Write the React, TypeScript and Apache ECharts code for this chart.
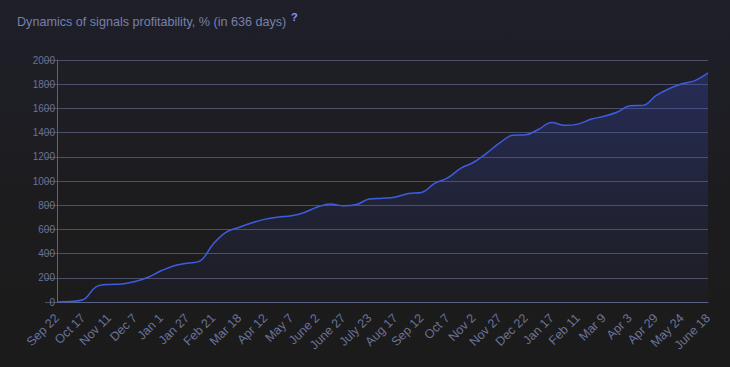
import React, { useEffect, useRef } from "react";
import * as echarts from "echarts";

const TITLE = "Dynamics of signals profitability, % (in 636 days)";

const categories = [
  "Sep 22", "Oct 4", "Oct 17", "Oct 29", "Nov 11", "Nov 23", "Dec 7", "Dec 19", "Jan 1", "Jan 13",
  "Jan 27", "Feb 8", "Feb 21", "Mar 5", "Mar 18", "Mar 30", "Apr 12", "Apr 24", "May 7", "May 19",
  "June 2", "June 14", "June 27", "July 9", "July 23", "Aug 4", "Aug 17", "Aug 29", "Sep 12", "Sep 24",
  "Oct 7", "Oct 19", "Nov 2", "Nov 14", "Nov 27", "Dec 9", "Dec 22", "Jan 3", "Jan 17", "Jan 29",
  "Feb 11", "Feb 23", "Mar 9", "Mar 21", "Apr 3", "Apr 15", "Apr 29", "May 11", "May 24", "June 5",
  "June 18",
];

const profit = [
  0, 5, 18, 125, 145, 148, 170, 205, 258, 300,
  320, 340, 480, 578, 618, 655, 685, 702, 712, 740,
  785, 810, 795, 805, 852, 857, 868, 897, 905, 980,
  1025, 1105, 1155, 1230, 1315, 1378, 1382, 1428, 1483, 1460,
  1470, 1510, 1535, 1568, 1622, 1625, 1705, 1762, 1803, 1830,
  1893,
];

const yMin = 0;
const yMax = 2000;
const yStep = 200;

export default function App() {
  const ref = useRef<HTMLDivElement>(null);

  useEffect(() => {
    if (!ref.current) return;
    const chart = echarts.init(ref.current, null, { renderer: "svg" });
    const labelColor = "#6a7399";
    chart.setOption({
      animation: false,
      backgroundColor: {
        type: "linear",
        x: 0, y: 0, x2: 0, y2: 1,
        colorStops: [
          { offset: 0, color: "#1f1f2a" },
          { offset: 0.6, color: "#1c1c1e" },
          { offset: 1, color: "#1b1b1b" },
        ],
      },
      textStyle: { fontFamily: "Liberation Sans, Arial, sans-serif" },
      graphic: [
        {
          type: "text",
          left: 17,
          top: 15,
          style: {
            text: TITLE,
            fill: "#7780a9",
            font: "12.6px 'Liberation Sans', Arial, sans-serif",
          },
        },
        {
          type: "text",
          left: 291,
          top: 11,
          style: {
            text: "?",
            fill: "#8396ff",
            font: "bold 11px 'Liberation Sans', Arial, sans-serif",
          },
        },
      ],
      grid: { left: 57, right: 22, top: 60, bottom: 65, containLabel: false },
      xAxis: {
        type: "category",
        data: categories,
        boundaryGap: false,
        axisLine: { lineStyle: { color: "#5a6287", width: 1 } },
        axisTick: { show: false },
        axisLabel: {
          interval: 1,
          rotate: 45,
          color: labelColor,
          fontSize: 12.5,
          margin: 14,
        },
        splitLine: { show: false },
      },
      yAxis: {
        type: "value",
        min: yMin,
        max: yMax,
        interval: yStep,
        axisLine: { show: true, lineStyle: { color: "#5a6287", width: 1 } },
        axisTick: { show: true, length: 12, lineStyle: { color: "#4c5068" } },
        axisLabel: {
          color: labelColor,
          fontSize: 10,
          margin: 2,
          formatter: (v: number) => String(v),
        },
        splitLine: { lineStyle: { color: "#4c5068", width: 1 } },
      },
      series: [
        {
          type: "line",
          data: profit,
          smooth: 0.4,
          symbol: "none",
          lineStyle: { color: "#3e5ce2", width: 1.5 },
          areaStyle: {
            color: {
              type: "linear",
              x: 0, y: 0, x2: 0, y2: 1,
              colorStops: [
                { offset: 0, color: "rgba(58,78,200,0.42)" },
                { offset: 1, color: "rgba(58,78,200,0.04)" },
              ],
            },
          },
        },
      ],
    });
    return () => chart.dispose();
  }, []);

  return (
    <div
      ref={ref}
      style={{ position: "fixed", left: 0, top: 0, width: 730, height: 367 }}
    />
  );
}
